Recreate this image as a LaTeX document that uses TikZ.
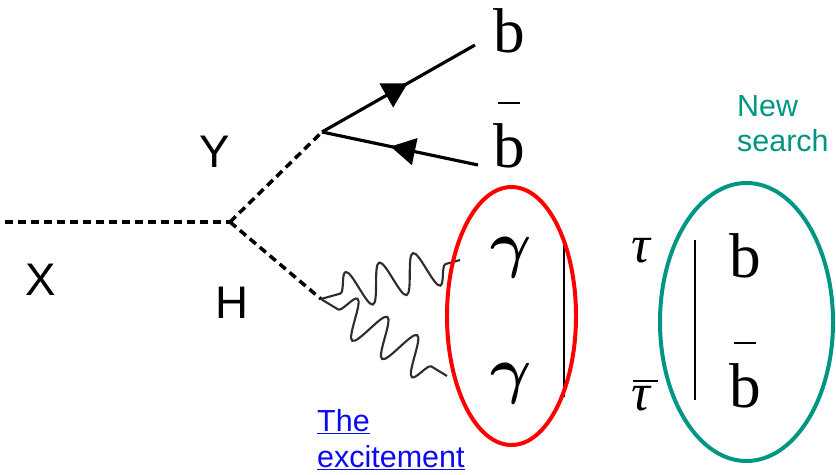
\RequirePackage{fix-cm}
\documentclass[tikz,border=0pt]{standalone}
\usepackage{fontspec}
\setmainfont{Liberation Serif}
\setsansfont{Liberation Sans}
\usetikzlibrary{positioning,arrows.meta,decorations.pathmorphing,decorations.markings,shapes.geometric}
\definecolor{SearchTeal}{RGB}{0,150,130}
\definecolor{LinkBlue}{RGB}{10,10,240}
\definecolor{PhotonGrey}{RGB}{45,45,45}
\tikzset{
  scalar/.style={line width=3pt,dash pattern=on 6.8pt off 4.3pt},
  fermion/.style={line width=2.7pt,postaction={decorate},
    decoration={markings,mark=at position 0.56 with {\arrow{Triangle[length=21pt,width=23pt]}}}},
  photon/.style={line width=1.8pt,draw=PhotonGrey,decorate,
    decoration={snake,amplitude=0.58cm,segment length=1.05cm,pre length=0.6cm,post length=0.1cm}},
  bigletter/.style={font=\fontsize{54}{54}\selectfont,anchor=base,inner sep=0pt},
  greek/.style={font=\fontsize{54}{54}\selectfont\boldmath,anchor=base,inner sep=0pt},
  taulabel/.style={font=\fontsize{45}{45}\selectfont\itshape,anchor=base,inner sep=0pt},
  partlabel/.style={font=\sffamily\fontsize{39}{39}\selectfont,anchor=base,inner sep=0pt},
  ring/.style={ellipse,line width=3.4pt,inner sep=0pt},
  sidebar/.style={line width=1.4pt}
}
\newcommand{\barb}{\rlap{\hspace{0.07em}\raisebox{0.99em}{\rule{0.36em}{0.03em}}}b}
\newcommand{\bartau}{\rlap{\hspace{0.03em}\raisebox{0.53em}{\rule{0.47em}{0.03em}}}τ}

\begin{document}
\begin{tikzpicture}[x=0.03cm,y=-0.03cm]
  \useasboundingbox (0,0) rectangle (836,475);
  % vertices and line ends
  \coordinate (xin) at (5,222);
  \coordinate (vx) at (230,222);
  \coordinate (vy) at (322,132);
  \coordinate (vh) at (321,299);
  \coordinate (bend) at (475,45);
  \coordinate (bbarend) at (478,165);
  \coordinate (gamend1) at (460,260);
  \coordinate (gamend2) at (447,376);
  \draw[scalar] (xin) -- (vx);
  \draw[scalar] (vx) -- (vy);
  \draw[scalar] (vx) -- (vh);
  \draw[fermion] (vy) -- (bend);
  \draw[fermion] (bbarend) -- (vy);
  \draw[photon] (vh) -- (gamend1);
  \draw[photon] (vh) -- (gamend2);
  % particle labels
  \node[partlabel] (xlab) at (41,295) {X};
  \node[partlabel] (ylab) at (215,167) {Y};
  \node[partlabel] (hlab) at (232,318) {H};
  \node[bigletter] (btop) at (509,53) {b};
  \node[bigletter] (bbot) at (509,167) {\barb};
  \node[greek] (gam1) at (511,265) {$\gamma$};
  \node[greek] (gam2) at (511,391) {$\gamma$};
  \node[taulabel] (tau1) at (641,262) {τ};
  \node[taulabel] (tau2) at (641,410) {\bartau};
  \node[bigletter] (bnew1) at (745,277) {b};
  \node[bigletter] (bnew2) at (745,407) {\barb};
  % separators
  \coordinate (sep1top) at (564,245);
  \coordinate (sep1bot) at (564,397);
  \coordinate (sep2top) at (695,240);
  \coordinate (sep2bot) at (695,400);
  \draw[sidebar] (sep1top) -- (sep1bot);
  \draw[sidebar] (sep2top) -- (sep2bot);
  % final states ringed
  \node[ring,draw=red,minimum width=3.87cm,minimum height=7.74cm] (diphoton) at (511.5,316) {};
  \node[ring,draw=SearchTeal,minimum width=5.19cm,minimum height=8.34cm] (newsearch) at (746.5,322) {};
  \node[font=\sffamily\fontsize{26}{30}\selectfont,text=SearchTeal,align=left,
    anchor=north west,inner sep=0pt] (newlab) at (737,95) {New\\search};
  \node[font=\sffamily\fontsize{26}{31}\selectfont,text=LinkBlue,align=left,
    anchor=north west,inner sep=0pt] (link) at (317,409) {\underline{The}\\\underline{excitement}};
\end{tikzpicture}
\end{document}
